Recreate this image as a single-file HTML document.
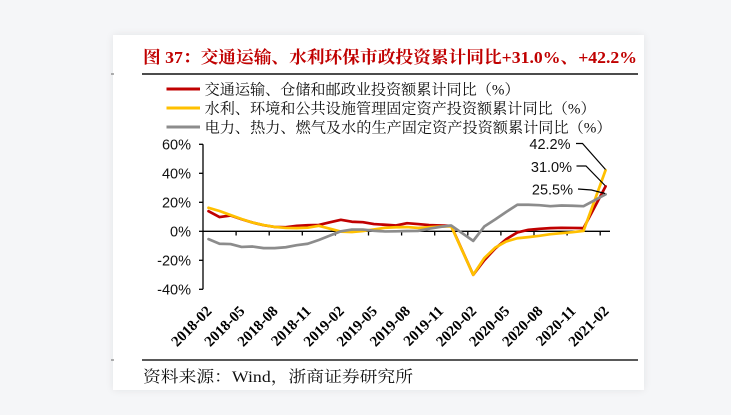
<!DOCTYPE html>
<html><head><meta charset="utf-8"><style>
html,body{margin:0;padding:0;background:#f5f6f8;width:731px;height:415px;overflow:hidden}
#card{position:absolute;left:113px;top:35px;width:531px;height:355px;background:#fff;box-shadow:0 0 8px rgba(0,0,0,0.08)}
svg{position:absolute;left:0;top:0}
</style></head><body>
<div id="card"></div>
<svg width="731" height="415" viewBox="0 0 731 415" xmlns="http://www.w3.org/2000/svg">
<!-- Title -->
<text x="143" y="63" font-family="Liberation Serif, 'Noto Serif CJK SC', serif" font-size="17" font-weight="bold" fill="#c00000" textLength="494" lengthAdjust="spacingAndGlyphs">图 37：交通运输、水利环保市政投资累计同比+31.0%、+42.2%</text>
<line x1="142" y1="74" x2="638" y2="74" stroke="#111" stroke-width="1.5"/>
<line x1="111" y1="74" x2="114" y2="74" stroke="#666" stroke-width="1"/>

<!-- Legend -->
<line x1="166.5" y1="89" x2="200" y2="89" stroke="#c00000" stroke-width="3"/>
<line x1="166.5" y1="108" x2="200" y2="108" stroke="#ffc000" stroke-width="3"/>
<line x1="166.5" y1="127" x2="200" y2="127" stroke="#8c8c8c" stroke-width="3"/>
<g font-family="Liberation Serif, 'Noto Serif CJK SC', serif" font-size="15" fill="#111">
<text x="204.6" y="94.5" textLength="315" lengthAdjust="spacingAndGlyphs">交通运输、仓储和邮政业投资额累计同比（%）</text>
<text x="204.6" y="113.5" textLength="391" lengthAdjust="spacingAndGlyphs">水利、环境和公共设施管理固定资产投资额累计同比（%）</text>
<text x="204.6" y="132.5" textLength="407" lengthAdjust="spacingAndGlyphs">电力、热力、燃气及水的生产固定资产投资额累计同比（%）</text>
</g>

<!-- Y axis -->
<g stroke="#000" stroke-width="1.3">
<line x1="203" y1="144.3" x2="203" y2="289.3"/>
<line x1="199" y1="144.3" x2="203" y2="144.3"/>
<line x1="199" y1="173.3" x2="203" y2="173.3"/>
<line x1="199" y1="202.3" x2="203" y2="202.3"/>
<line x1="199" y1="231.3" x2="203" y2="231.3"/>
<line x1="199" y1="260.3" x2="203" y2="260.3"/>
<line x1="199" y1="289.3" x2="203" y2="289.3"/>
<!-- X axis -->
<line x1="203" y1="231.3" x2="610" y2="231.3"/>
<line x1="236.1" y1="231.3" x2="236.1" y2="235.5"/>
<line x1="269.2" y1="231.3" x2="269.2" y2="235.5"/>
<line x1="302.3" y1="231.3" x2="302.3" y2="235.5"/>
<line x1="335.4" y1="231.3" x2="335.4" y2="235.5"/>
<line x1="368.5" y1="231.3" x2="368.5" y2="235.5"/>
<line x1="401.6" y1="231.3" x2="401.6" y2="235.5"/>
<line x1="434.7" y1="231.3" x2="434.7" y2="235.5"/>
<line x1="467.8" y1="231.3" x2="467.8" y2="235.5"/>
<line x1="500.9" y1="231.3" x2="500.9" y2="235.5"/>
<line x1="534.0" y1="231.3" x2="534.0" y2="235.5"/>
<line x1="567.1" y1="231.3" x2="567.1" y2="235.5"/>
<line x1="600.2" y1="231.3" x2="600.2" y2="235.5"/>
</g>
<g font-family="Liberation Sans, Arial, sans-serif" font-size="14.5" fill="#111" text-anchor="end">
<text x="191" y="149.5">60%</text>
<text x="191" y="178.5">40%</text>
<text x="191" y="207.5">20%</text>
<text x="191" y="236.5">0%</text>
<text x="191" y="265.5">-20%</text>
<text x="191" y="294.5">-40%</text>
</g>

<!-- X labels -->
<g font-family="Liberation Serif, 'Times New Roman', serif" font-size="15" font-weight="bold" fill="#000" text-anchor="end">
<text transform="translate(212.5,312) rotate(-45)">2018-02</text>
<text transform="translate(245.6,312) rotate(-45)">2018-05</text>
<text transform="translate(278.7,312) rotate(-45)">2018-08</text>
<text transform="translate(311.8,312) rotate(-45)">2018-11</text>
<text transform="translate(344.9,312) rotate(-45)">2019-02</text>
<text transform="translate(378.0,312) rotate(-45)">2019-05</text>
<text transform="translate(411.1,312) rotate(-45)">2019-08</text>
<text transform="translate(444.2,312) rotate(-45)">2019-11</text>
<text transform="translate(477.3,312) rotate(-45)">2020-02</text>
<text transform="translate(510.4,312) rotate(-45)">2020-05</text>
<text transform="translate(543.5,312) rotate(-45)">2020-08</text>
<text transform="translate(576.6,312) rotate(-45)">2020-11</text>
<text transform="translate(609.7,312) rotate(-45)">2021-02</text>
</g>

<!-- Series -->
<g fill="none" stroke-width="2.7" stroke-linejoin="round" stroke-linecap="round">
<polyline stroke="#c00000" points="208.50,211.15 219.53,217.09 230.56,215.50 241.59,219.27 252.62,222.60 263.65,225.21 274.68,226.95 285.71,227.24 296.74,225.79 307.77,225.21 318.80,224.92 329.83,222.31 340.86,219.85 351.89,221.73 362.92,222.17 373.95,224.05 384.98,224.78 396.01,225.50 407.04,223.18 418.07,224.05 429.10,225.07 440.13,225.50 451.16,225.79 462.19,250.30 473.22,274.80 484.25,260.30 495.28,248.41 506.31,239.13 517.34,232.46 528.37,229.85 539.40,228.83 550.43,228.11 561.46,227.82 572.49,227.96 583.52,228.11 594.55,207.23 605.58,186.35"/>
<polyline stroke="#ffc000" points="208.50,207.81 219.53,211.00 230.56,215.06 241.59,218.97 252.62,222.60 263.65,225.06 274.68,226.95 285.71,227.96 296.74,228.11 307.77,227.67 318.80,225.79 329.83,228.69 340.86,231.59 351.89,232.03 362.92,231.01 373.95,229.41 384.98,227.82 396.01,227.24 407.04,227.09 418.07,227.96 429.10,227.24 440.13,226.66 451.16,226.22 462.19,250.59 473.22,274.80 484.25,258.13 495.28,247.54 506.31,241.45 517.34,238.26 528.37,237.10 539.40,235.80 550.43,234.20 561.46,233.19 572.49,232.17 583.52,230.87 594.55,200.56 605.58,170.11"/>
<polyline stroke="#8c8c8c" points="208.50,239.13 219.53,243.77 230.56,244.06 241.59,246.96 252.62,246.53 263.65,248.12 274.68,248.12 285.71,247.25 296.74,245.22 307.77,243.77 318.80,240.00 329.83,235.65 340.86,231.30 351.89,229.56 362.92,229.56 373.95,230.72 384.98,231.45 396.01,231.30 407.04,231.01 418.07,230.87 429.10,228.69 440.13,226.95 451.16,225.50 462.19,233.19 473.22,240.87 484.25,226.51 495.28,219.41 506.31,211.87 517.34,204.76 528.37,204.76 539.40,205.20 550.43,206.21 561.46,205.49 572.49,205.78 583.52,206.21 594.55,200.27 605.58,194.32"/>
</g>

<!-- Annotations -->
<g fill="none" stroke="#000" stroke-width="1.2">
<polyline points="576,143.5 582.5,143.5 605.5,169.5"/>
<polyline points="576.5,166 586,166 605,185.5"/>
<polyline points="578,189 591.5,190 605,193.5"/>
</g>
<g font-family="Liberation Sans, Arial, sans-serif" font-size="14.5" fill="#111" text-anchor="end">
<text x="570.5" y="149">42.2%</text>
<text x="572" y="172">31.0%</text>
<text x="573" y="194.5">25.5%</text>
</g>

<!-- Source -->
<line x1="142" y1="360" x2="638" y2="360" stroke="#222" stroke-width="1.5"/>
<line x1="111" y1="360" x2="114" y2="360" stroke="#666" stroke-width="1"/>
<text x="143" y="382" font-family="Liberation Serif, 'Noto Serif CJK SC', serif" font-size="16" fill="#111" textLength="270" lengthAdjust="spacingAndGlyphs">资料来源：Wind，浙商证券研究所</text>
</svg>
</body></html>
